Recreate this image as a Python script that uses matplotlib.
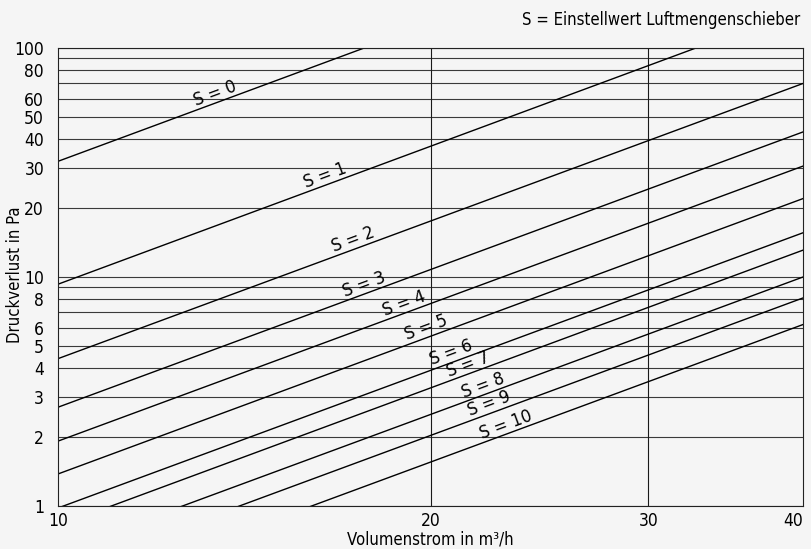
import numpy as np
import matplotlib
matplotlib.use("Agg")
import matplotlib.pyplot as plt
from matplotlib import font_manager

# pick a condensed sans if one is installed (reference uses a condensed face)
fonts = font_manager.fontManager.ttflist
narrow = [f for f in fonts if 'Narrow' in f.name or 'Condensed' in f.name
          or 'Narrow' in f.fname or 'Condensed' in f.fname]
narrow = [f for f in narrow if 'Bold' not in f.fname and 'Italic' not in f.fname
          and 'Oblique' not in f.fname]
if narrow:
    pick = sorted(narrow, key=lambda f: ('Liberation' not in f.fname, f.fname))[0]
    plt.rcParams['font.family'] = [pick.name, 'DejaVu Sans']
    plt.rcParams['font.stretch'] = pick.stretch
else:
    plt.rcParams['font.family'] = ['Roboto', 'DejaVu Sans']

settings = [0, 1, 2, 3, 4, 5, 6, 7, 8, 9, 10]
p_at_10 = [32, 9.3, 4.4, 2.7, 1.92, 1.38, 0.98, 0.82, 0.63, 0.51, 0.39]
p_at_40 = [512, 149, 70, 43, 30.5, 22, 15.6, 13.1, 10.0, 8.1, 6.2]
label_x = [13.47, 16.52, 17.43, 17.79, 19.15, 19.97, 20.92, 21.59, 22.2, 22.45, 23.17]

flow_ends = [10, 40]
x_ticks = [10, 20, 30, 40]
y_ticks = [1, 2, 3, 4, 5, 6, 8, 10, 20, 30, 40, 50, 60, 80, 100]
y_grid = [1, 2, 3, 4, 5, 6, 7, 8, 9, 10, 20, 30, 40, 50, 60, 70, 80, 90, 100]

bg = '#f5f5f5'
fig = plt.figure(figsize=(8.11, 5.49), dpi=100, facecolor=bg)
ax = fig.add_axes([58/811, 1-506/549, (803-58)/811, (506-48)/549])
ax.set_facecolor(bg)
ax.set_xscale('log')
ax.set_yscale('log')
ax.set_xlim(10, 40)
ax.set_ylim(1, 100)

for g in y_grid:
    ax.axhline(g, color='#3a3a3a', lw=0.8, zorder=1)
for g in [20, 30]:
    ax.axvline(g, color='#1a1a1a', lw=0.8, zorder=1)

for s, p10, p40 in zip(settings, p_at_10, p_at_40):
    ax.plot(flow_ends, [p10, p40], color='black', lw=1.0, zorder=2)

ax.set_xticks(x_ticks)
ax.set_xticklabels([str(v) for v in x_ticks])
ax.set_yticks(y_ticks)
ax.set_yticklabels([str(v) for v in y_ticks])
ax.xaxis.set_minor_locator(matplotlib.ticker.NullLocator())
ax.yaxis.set_minor_locator(matplotlib.ticker.NullLocator())
ax.tick_params(axis='both', length=0, labelsize=12.5)
ax.tick_params(axis='y', pad=10)
ax.tick_params(axis='x', pad=4)
ax.get_xticklabels()[-1].set_ha('right')
for sp in ax.spines.values():
    sp.set_color('#222222')
    sp.set_linewidth(0.8)

fig.text(430/811, 1-544/549, 'Volumenstrom in m³/h', ha='center', va='baseline',
         fontsize=12)
fig.text(15/811, 1-275/549, 'Druckverlust in Pa', ha='center', va='center',
         rotation=90, fontsize=12)

# labels along the lines
for s, p10, p40, lx in zip(settings, p_at_10, p_at_40, label_x):
    t = np.log10(lx / 10) / np.log10(4)
    ly = 10 ** (np.log10(p10) + t * (np.log10(p40) - np.log10(p10)))
    a = ax.transData.transform((10, p10))
    b = ax.transData.transform((40, p40))
    ang = np.degrees(np.arctan2(b[1] - a[1], b[0] - a[0]))
    d = 6.5
    off = (-np.sin(np.radians(ang)) * d, np.cos(np.radians(ang)) * d)
    ax.annotate(f'S = {s}', (lx, ly), xytext=off, textcoords='offset points',
                ha='center', va='center', rotation=ang, rotation_mode='anchor',
                fontsize=13, zorder=3)

fig.text(800/811, 1-20/549, 'S = Einstellwert Luftmengenschieber', ha='right',
         va='center', fontsize=12)

fig.savefig('out.png', dpi=100, facecolor=bg)
